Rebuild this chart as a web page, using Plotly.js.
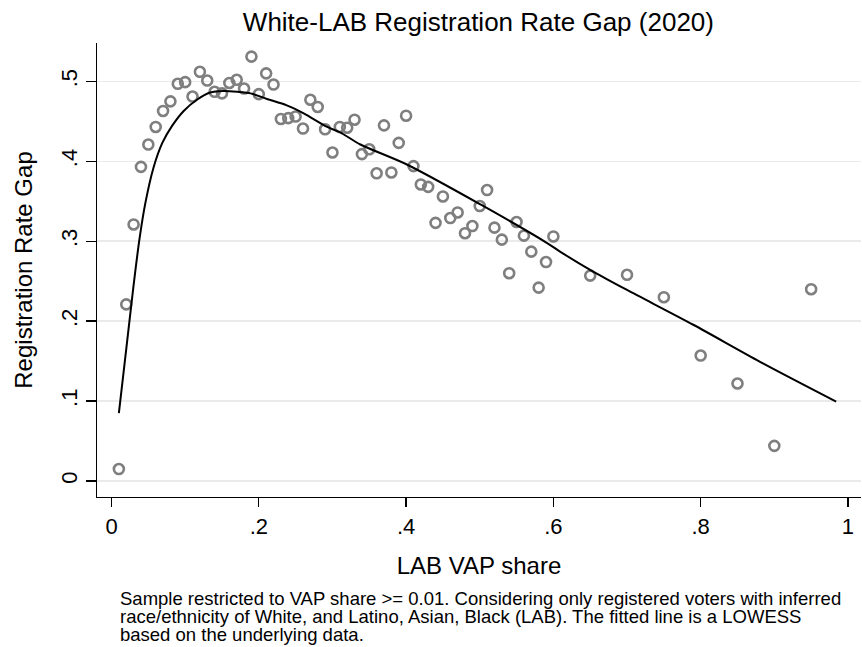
<!DOCTYPE html>
<html>
<head>
<meta charset="utf-8">
<script src="https://cdn.plot.ly/plotly-3.0.1.min.js"></script>
<style>html,body{margin:0;padding:0;background:#fff;}#chart{width:862px;height:647px;}</style>
</head>
<body>
<div id="chart"></div>
<script>
// Binned scatter: LAB VAP share vs registration rate gap
const vapShare = [0.01,0.02,0.03,0.04,0.05,0.06,0.07,0.08,0.09,0.10,
  0.11,0.12,0.13,0.14,0.15,0.16,0.17,0.18,0.19,0.20,
  0.21,0.22,0.23,0.24,0.25,0.26,0.27,0.28,0.29,0.30,
  0.31,0.32,0.33,0.34,0.35,0.36,0.37,0.38,0.39,0.40,
  0.41,0.42,0.43,0.44,0.45,0.46,0.47,0.48,0.49,0.50,
  0.51,0.52,0.53,0.54,0.55,0.56,0.57,0.58,0.59,0.60,
  0.65,0.70,0.75,0.80,0.85,0.90,0.95];
const regGap = [0.015,0.221,0.321,0.393,0.421,0.443,0.463,0.475,0.497,0.499,
  0.481,0.512,0.501,0.487,0.485,0.498,0.502,0.491,0.531,0.484,
  0.510,0.496,0.453,0.454,0.456,0.441,0.477,0.468,0.440,0.411,
  0.443,0.442,0.452,0.409,0.415,0.385,0.445,0.386,0.423,0.457,
  0.394,0.371,0.368,0.323,0.356,0.329,0.336,0.310,0.319,0.344,
  0.364,0.317,0.302,0.260,0.324,0.307,0.287,0.242,0.274,0.306,
  0.257,0.258,0.230,0.157,0.122,0.044,0.240];

// LOWESS fitted line
const lowessX = [0.010,0.020,0.030,0.038,0.046,0.057,0.069,0.082,0.098,0.116,
  0.134,0.152,0.171,0.189,0.211,0.238,0.261,0.293,0.311,0.338,
  0.401,0.501,0.591,0.609,0.654,0.700,0.790,0.880,0.984];
const lowessY = [0.085,0.165,0.245,0.303,0.348,0.392,0.423,0.444,0.463,0.477,
  0.486,0.488,0.487,0.485,0.478,0.470,0.460,0.443,0.436,0.421,
  0.396,0.346,0.298,0.287,0.262,0.239,0.1955,0.1495,0.0994];

const xTickVals = [0,0.2,0.4,0.6,0.8,1];
const xTickText = ["0",".2",".4",".6",".8","1"];
const yTickVals = [0,0.1,0.2,0.3,0.4,0.5];
const yTickText = ["0",".1",".2",".3",".4",".5"];

const noteLines = [
  "Sample restricted to VAP share >= 0.01. Considering only registered voters with inferred",
  "race/ethnicity of White, and Latino, Asian, Black (LAB). The fitted line is a LOWESS",
  "based on the underlying data."
];

const font = "Liberation Sans, Arial, sans-serif";

const traces = [
  {
    x: vapShare, y: regGap, type: "scatter", mode: "markers",
    marker: {symbol: "circle-open", size: 10, color: "#7f7f7f", line: {color: "#7f7f7f", width: 2.6}},
    hoverinfo: "x+y", showlegend: false
  },
  {
    x: lowessX, y: lowessY, type: "scatter", mode: "lines",
    line: {color: "#000000", width: 2, shape: "spline", smoothing: 0.8},
    showlegend: false
  }
];

const plotTop = 43, plotBottom = 497;
const ph = plotBottom - plotTop;
const noteCenters = [598, 616, 634];

const annotations = noteLines.map((t, i) => ({
  xref: "paper", yref: "paper", x: (118 - 97) / 764, y: (plotBottom - noteCenters[i]) / ph,
  xanchor: "left", yanchor: "middle", align: "left", showarrow: false,
  font: {size: 18.5, family: font, color: "#000"}, text: t
}));

const layout = {
  width: 862, height: 647,
  paper_bgcolor: "#ffffff", plot_bgcolor: "#ffffff",
  margin: {l: 97, r: 1, t: plotTop, b: 647 - plotBottom},
  font: {family: font, color: "#000"},
  title: {text: "White-LAB Registration Rate Gap (2020)", font: {size: 26, family: font, color: "#000"},
    x: 0.555, xanchor: "center", y: 1 - 22/647, yanchor: "middle"},
  xaxis: {
    range: [-0.0197, 1.0177], tickvals: xTickVals, ticktext: xTickText,
    ticks: "outside", ticklen: 9, tickwidth: 1.3, tickcolor: "#000",
    showgrid: false, zeroline: false,
    showline: true, linecolor: "#000", linewidth: 1.3,
    tickfont: {size: 22, family: font, color: "#000"},
    title: {text: "LAB VAP share", font: {size: 24, family: font, color: "#000"}, standoff: 19}
  },
  yaxis: {
    range: [-0.020, 0.548], tickvals: yTickVals, ticktext: yTickText,
    ticks: "outside", ticklen: 10, tickwidth: 1.3, tickcolor: "#000",
    tickangle: -90,
    showgrid: true, gridcolor: "#eaeaea", gridwidth: 1.5, zeroline: false,
    showline: true, linecolor: "#000", linewidth: 1.3,
    tickfont: {size: 22, family: font, color: "#000"},
    title: {text: "Registration Rate Gap", font: {size: 24, family: font, color: "#000"}, standoff: 17}
  },
  annotations: annotations
};

Plotly.newPlot("chart", traces, layout, {displayModeBar: false, staticPlot: true});
</script>
</body>
</html>
